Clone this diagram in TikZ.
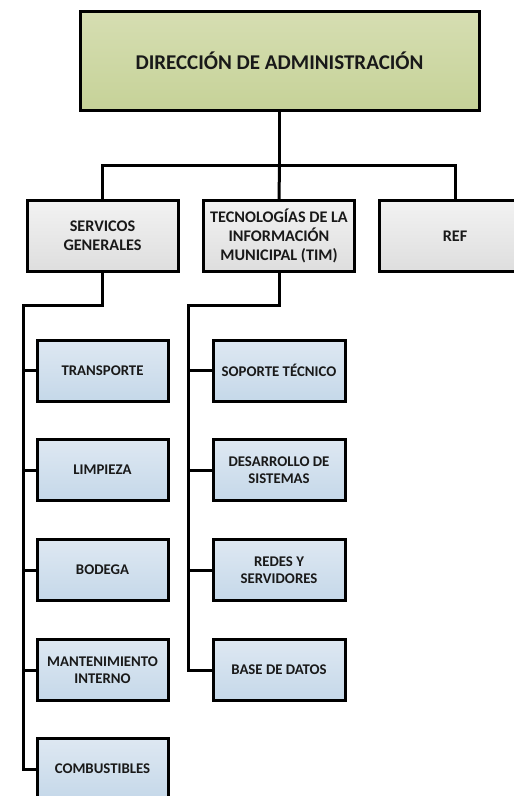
\documentclass[tikz,border=0pt]{standalone}
\usepackage{fontspec}
\setmainfont{Carlito}
\begin{document}
\begin{tikzpicture}[x=1pt,y=-1pt,
  box/.style={draw=black,line width=3pt,align=center,inner sep=0pt,text=black!90},
  topbox/.style={box,top color=topc,bottom color=botc,
    minimum width=399pt,minimum height=99pt,font=\bfseries\fontsize{21}{25}\selectfont},
  grbox/.style={box,top color=black!5,bottom color=black!13,minimum width=151pt,minimum height=71pt,
    font=\bfseries\fontsize{16.2}{19}\selectfont},
  blbox/.style={box,top color=blt,bottom color=blb,
    minimum width=131pt,minimum height=61pt,font=\bfseries\fontsize{14.8}{17.5}\selectfont},
  conn/.style={line width=3pt}]
\definecolor{topc}{RGB}{214,222,178}
\definecolor{botc}{RGB}{198,210,152}
\definecolor{blt}{RGB}{222,232,242}
\definecolor{blb}{RGB}{197,216,233}
\useasboundingbox (0,0) rectangle (514,796);
\clip (0,0) rectangle (514,796);
\node[topbox] (dir) at (279.5,60.5) {DIRECCIÓN DE ADMINISTRACIÓN};
\node[grbox] (sg) at (102.5,236) {SERVICOS\\GENERALES};
\node[grbox] (tim) at (279,236) {TECNOLOGÍAS DE LA\\INFORMACIÓN\\MUNICIPAL (TIM)};
\node[grbox] (ref) at (455,236) {REF};
\node[blbox] (tr) at (102.5,370.5) {TRANSPORTE};
\node[blbox] (li) at (102.5,470) {LIMPIEZA};
\node[blbox] (bo) at (102.5,570) {BODEGA};
\node[blbox] (ma) at (102.5,670) {MANTENIMIENTO\\INTERNO};
\node[blbox] (co) at (102.5,769) {COMBUSTIBLES};
\node[blbox,minimum width=132pt] (so) at (279,370.5) {SOPORTE TÉCNICO};
\node[blbox,minimum width=132pt] (de) at (279,470) {DESARROLLO DE\\SISTEMAS};
\node[blbox,minimum width=132pt] (re) at (279,570) {REDES Y\\SERVIDORES};
\node[blbox,minimum width=132pt] (ba) at (279,670) {BASE DE DATOS};
\coordinate (bar) at (279.5,165);
\coordinate (sgk) at (102.5,305);
\coordinate (timk) at (279,305);
\coordinate (lk) at (23,305);
\coordinate (rk) at (188,305);
\draw[conn] (dir.south) -- (bar);
\draw[conn] (sg.north) |- (bar) -| (ref.north);
\draw[conn] (bar) -- (tim.north);
\draw[conn] (sg.south) -- (sgk) -- (lk) |- (co.west);
\draw[conn] (tim.south) -- (timk) -- (rk) |- (ba.west);
\foreach \n in {tr,li,bo,ma} \draw[conn] (lk |- \n.west) -- (\n.west);
\foreach \n in {so,de,re} \draw[conn] (rk |- \n.west) -- (\n.west);
\end{tikzpicture}
\end{document}
